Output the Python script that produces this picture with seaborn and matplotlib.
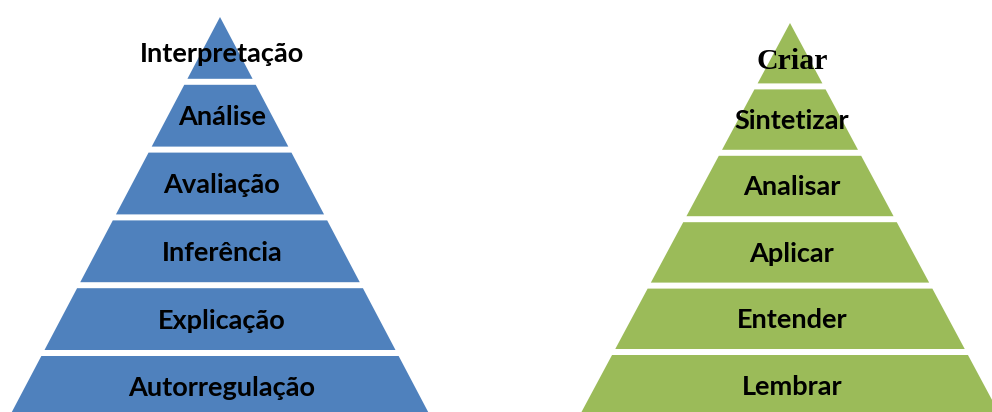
import matplotlib
matplotlib.use("Agg")
import matplotlib.pyplot as plt
import seaborn as sns

# pyramid levels, top to bottom
left_levels = ["Interpretação", "Análise", "Avaliação", "Inferência", "Explicação", "Autorregulação"]
right_levels = ["Criar", "Sintetizar", "Analisar", "Aplicar", "Entender", "Lembrar"]

BLUE = "#4F81BD"
GREEN = "#9BBB59"

sns.set_theme(style="white")
plt.rcParams['font.family'] = ['Lato', 'DejaVu Sans']

W, H = 992, 412


def draw_pyramid(ax, labels, cx, apex, pitch, gap, slope, color, size=19.5, first_font=None):
    for i, label in enumerate(labels):
        top = apex + i * pitch
        bot = top + pitch - gap
        hw_top = slope * (top - apex)
        hw_bot = slope * (bot - apex)
        xs = [cx - hw_top, cx + hw_top, cx + hw_bot, cx - hw_bot]
        ys = [top, top, bot, bot]
        ax.fill(xs, ys, color=color, lw=0)

        mid = (top + bot) / 2
        if i == 0:
            mid += 5  # triangle: text sits a bit lower
        fam = ['Lato', 'DejaVu Sans']
        fs = size
        if i == 0 and first_font is not None:
            fam, fs = first_font
        cap = 0.70 * fs * 100 / 72
        ax.text(cx + 2, mid + cap / 2, label, ha='center', va='baseline',
                fontsize=fs, fontweight='bold', color='black', family=fam)


fig = plt.figure(figsize=(W / 100, H / 100), dpi=100)
ax = fig.add_axes([0, 0, 1, 1])
ax.set_xlim(0, W)
ax.set_ylim(H, 0)
ax.axis('off')

draw_pyramid(ax, left_levels, cx=220, apex=17, pitch=67.8, gap=6, slope=0.527, color=BLUE)
draw_pyramid(ax, right_levels, cx=790, apex=23, pitch=66.4, gap=6, slope=0.536, color=GREEN,
             first_font=(['Liberation Serif', 'DejaVu Serif'], 21.5))

fig.savefig("out.png", dpi=100)
